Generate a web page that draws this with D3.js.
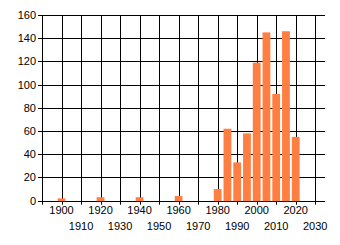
<!DOCTYPE html>
<html><head><meta charset="utf-8">
<script src="https://cdn.jsdelivr.net/npm/d3@7"></script>
<style>body{margin:0;background:#fff}svg{display:block}text{font-family:"Liberation Sans",Arial,sans-serif;font-size:11px;fill:#000}</style>
</head><body>
<script>
const years = [1900,1920,1940,1960,1980,1985,1990,1995,2000,2005,2010,2015,2020];
const counts = [2,3,3,4,10,62,33,58,119,145,92,146,55];
const yTicks = [0,20,40,60,80,100,120,140,160];
const xTicks = [1900,1910,1920,1930,1940,1950,1960,1970,1980,1990,2000,2010,2020,2030];

const W=340,H=245, L=42, R=325, T=15, B=200.7;
const svg=d3.select("body").append("svg").attr("width",W).attr("height",H);
const x=d3.scaleLinear().domain([1890,2035]).range([L,R]);
const y=d3.scaleLinear().domain([0,160]).range([B,T]);

// grid
svg.append("g").selectAll("line").data(yTicks).join("line")
 .attr("x1",L).attr("x2",R).attr("y1",d=>Math.round(y(d))+0.5).attr("y2",d=>Math.round(y(d))+0.5)
 .attr("stroke","#000");
svg.append("g").selectAll("line").data([1890].concat(xTicks)).join("line")
 .attr("x1",d=>Math.round(x(d))+0.5).attr("x2",d=>Math.round(x(d))+0.5)
 .attr("y1",T).attr("y2",B+4).attr("stroke","#000");
// y ticks
svg.append("g").selectAll("line").data(yTicks).join("line")
 .attr("x1",L-4).attr("x2",L).attr("y1",d=>Math.round(y(d))+0.5).attr("y2",d=>Math.round(y(d))+0.5)
 .attr("stroke","#000");
svg.append("g").selectAll("text").data(yTicks).join("text")
 .attr("x",L-6).attr("y",d=>y(d)+4).attr("text-anchor","end").text(d=>d);

// bars
const bw = x(1894)-x(1890);
svg.append("g").selectAll("rect").data(years).join("rect")
 .attr("x",(d)=>x(d)-bw/2).attr("width",bw)
 .attr("y",(d,i)=>y(counts[i])).attr("height",(d,i)=>B-y(counts[i])+0.5)
 .attr("fill","#ff7f42");

// x labels staggered
svg.append("g").selectAll("text").data(xTicks).join("text")
 .attr("x",d=>x(d)).attr("y",(d,i)=> i%2===0?214:230).attr("text-anchor","middle").text(d=>d);
</script>
</body></html>
